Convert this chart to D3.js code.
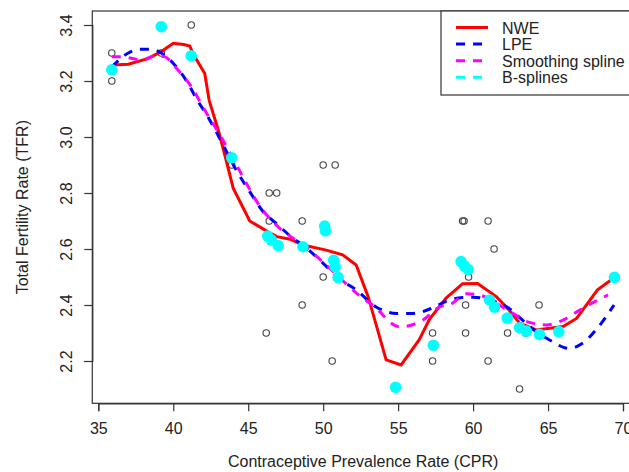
<!DOCTYPE html>
<html>
<head>
<meta charset="utf-8">
<script src="https://cdn.jsdelivr.net/npm/d3@7/dist/d3.min.js"></script>
<style>
  body { margin: 0; background: #fff; }
  text { font-family: "Liberation Sans", Arial, sans-serif; fill: #222; }
</style>
</head>
<body>
<div id="viz"></div>
<script>
// tick values
var xTicks = [35, 40, 45, 50, 55, 60, 65, 70];
var yTicks = [2.2, 2.4, 2.6, 2.8, 3.0, 3.2, 3.4];

// observed data (open circles)
var obsCPR = [35.9, 35.9, 39.2, 41.2, 43.9, 46.4, 46.9, 46.4, 48.6, 50.0, 50.8, 46.2, 48.6, 50.0, 50.6,
              57.3, 57.3, 59.5, 59.5, 59.3, 59.4, 61.0, 61.4, 59.7, 64.4, 62.3, 63.5, 61.0, 63.1];
var obsTFR = [3.3, 3.2, 3.3, 3.4, 2.9, 2.8, 2.8, 2.7, 2.7, 2.9, 2.9, 2.3, 2.4, 2.5, 2.2,
              2.3, 2.2, 2.4, 2.3, 2.7, 2.7, 2.7, 2.6, 2.5, 2.4, 2.3, 2.3, 2.2, 2.1];

// NWE fit
var nweCPR = [36.0, 37.0, 38.3, 39.2, 40.0, 40.7, 41.1, 41.4, 42.1, 42.4, 43.0, 43.3, 44.0, 45.1, 46.3, 46.9,
              47.8, 48.65, 50.2, 51.3, 52.2, 53.0, 54.2, 55.2, 56.4, 57.1, 58.2, 59.3, 60.3, 61.55, 62.4,
              63.1, 64.2, 66.0, 66.9, 68.3, 69.2];
var nweTFR = [3.257, 3.26, 3.28, 3.305, 3.335, 3.33, 3.325, 3.29, 3.227, 3.13, 3.025, 2.965, 2.817, 2.70, 2.662, 2.644,
              2.635, 2.614, 2.596, 2.579, 2.543, 2.43, 2.204, 2.186, 2.275, 2.35, 2.425, 2.476, 2.477, 2.43, 2.382,
              2.335, 2.311, 2.323, 2.352, 2.454, 2.489];

// LPE fit
var lpeCPR = [35.9, 37.0, 37.7, 38.5, 39.2, 40.1, 41.0, 41.6, 42.3, 43.05, 44.2, 45.1, 46.0, 46.9, 48.0, 48.65,
              50.0, 51.2, 52.2, 53.5, 54.9, 56.0, 57.3, 58.2, 59.3, 60.0, 61.1, 62.4, 63.3, 64.2, 65.1, 66.4,
              67.3, 68.2, 69.4];
var lpeTFR = [3.25, 3.30, 3.313, 3.313, 3.30, 3.257, 3.19, 3.132, 3.073, 3.0, 2.882, 2.805, 2.733, 2.69, 2.638, 2.614,
              2.549, 2.489, 2.454, 2.394, 2.37, 2.37, 2.39, 2.413, 2.427, 2.428, 2.418, 2.388, 2.346, 2.305, 2.275, 2.245,
              2.263, 2.311, 2.40];

// smoothing spline fit
var ssCPR = [35.9, 36.5, 37.9, 38.8, 39.4, 40.3, 41.2, 42.1, 43.2, 44.4, 45.8, 47.1, 48.65, 50.2, 51.5, 52.5,
             53.3, 55.1, 56.65, 57.8, 58.4, 59.6, 60.4, 61.55, 62.65, 63.8, 64.9, 66.0, 67.3, 69.0];
var ssTFR = [3.287, 3.287, 3.275, 3.29, 3.287, 3.24, 3.18, 3.096, 3.0, 2.882, 2.751, 2.674, 2.614, 2.543, 2.477, 2.43,
             2.40, 2.322, 2.346, 2.394, 2.40, 2.44, 2.436, 2.406, 2.37, 2.337, 2.329, 2.346, 2.388, 2.436];

// B-splines fitted points
var bsCPR = [35.9, 39.2, 41.2, 43.9, 46.3, 46.55, 47.0, 48.65, 50.1, 50.15, 50.7, 50.8, 51.0, 54.83, 57.35,
             59.2, 59.43, 59.66, 61.1, 61.43, 62.28, 63.1, 63.55, 64.43, 65.72, 69.43];
var bsTFR = [3.24, 3.394, 3.29, 2.926, 2.646, 2.632, 2.612, 2.608, 2.682, 2.665, 2.56, 2.537, 2.498, 2.106, 2.256,
             2.555, 2.539, 2.527, 2.418, 2.392, 2.353, 2.319, 2.307, 2.295, 2.305, 2.499];

var legendNames = ["NWE", "LPE", "Smoothing spline", "B-splines"];
var legendColors = ["#ff0000", "#0000ff", "#ff00ff", "#00ffff"];
var legendDash = [null, "9,8", "9,8", "9,8"];

var W = 629, H = 472;
var box = {left: 92.3, top: 11, right: 634, bottom: 403.3};

var svg = d3.select("#viz").append("svg")
    .attr("width", W)
    .attr("height", H);

svg.append("rect").attr("width", W).attr("height", H).attr("fill", "#fff");

var x = d3.scaleLinear().domain([35, 70]).range([98.3, 623]);
var y = d3.scaleLinear().domain([2.2, 3.4]).range([361, 25]);

function pts(xs, ys) {
    return xs.map(function (d, i) { return [d, ys[i]]; });
}

// open circles (observed)
svg.append("g").selectAll("circle")
    .data(pts(obsCPR, obsTFR))
    .enter()
    .append("circle")
    .attr("cx", function (d) { return x(d[0]); })
    .attr("cy", function (d) { return y(d[1]); })
    .attr("r", 3.2)
    .attr("fill", "none")
    .attr("stroke", "#444")
    .attr("stroke-width", 1.1);

var line = d3.line()
    .x(function (d) { return x(d[0]); })
    .y(function (d) { return y(d[1]); });

svg.append("path")
    .attr("d", line(pts(nweCPR, nweTFR)))
    .attr("fill", "none")
    .attr("stroke", legendColors[0])
    .attr("stroke-width", 3);

svg.append("path")
    .attr("d", line.curve(d3.curveMonotoneX)(pts(lpeCPR, lpeTFR)))
    .attr("fill", "none")
    .attr("stroke", legendColors[1])
    .attr("stroke-width", 3)
    .attr("stroke-dasharray", legendDash[1]);

svg.append("path")
    .attr("d", line.curve(d3.curveMonotoneX)(pts(ssCPR, ssTFR)))
    .attr("fill", "none")
    .attr("stroke", legendColors[2])
    .attr("stroke-width", 3)
    .attr("stroke-dasharray", legendDash[2]);

// B-spline points
svg.append("g").selectAll("circle")
    .data(pts(bsCPR, bsTFR))
    .enter()
    .append("circle")
    .attr("cx", function (d) { return x(d[0]); })
    .attr("cy", function (d) { return y(d[1]); })
    .attr("r", 5.8)
    .attr("fill", "#00ffff");

// frame
svg.append("rect")
    .attr("x", box.left).attr("y", box.top)
    .attr("width", box.right - box.left).attr("height", box.bottom - box.top)
    .attr("fill", "none")
    .attr("stroke", "#333")
    .attr("stroke-width", 1.2);

// axes
var xAxis = svg.append("g")
    .attr("transform", "translate(0," + box.bottom + ")")
    .call(d3.axisBottom(x).tickValues(xTicks).tickSize(8).tickFormat(d3.format("d")));
xAxis.select(".domain").attr("stroke", "#333").attr("stroke-width", 1.2);
xAxis.selectAll("line").attr("stroke", "#333").attr("stroke-width", 1.2);
xAxis.selectAll("text")
    .attr("y", 30.7).attr("dy", null)
    .attr("fill", "#222")
    .style("font-size", "16px");

var yAxis = svg.append("g")
    .attr("transform", "translate(" + box.left + ",0)")
    .call(d3.axisLeft(y).tickValues(yTicks).tickSize(8).tickFormat(d3.format(".1f")));
yAxis.select(".domain").attr("stroke", "#333").attr("stroke-width", 1.2);
yAxis.selectAll("line").attr("stroke", "#333").attr("stroke-width", 1.2);
yAxis.selectAll("text")
    .attr("x", null).attr("dy", null)
    .attr("transform", "translate(-20.3,0) rotate(-90)")
    .attr("text-anchor", "middle")
    .attr("fill", "#222")
    .style("font-size", "16px");

// axis titles
svg.append("text")
    .attr("x", (box.left + box.right) / 2)
    .attr("y", 467)
    .attr("text-anchor", "middle")
    .style("font-size", "16px")
    .text("Contraceptive Prevalence Rate (CPR)");

svg.append("text")
    .attr("transform", "translate(28," + (box.top + box.bottom) / 2 + ") rotate(-90)")
    .attr("text-anchor", "middle")
    .style("font-size", "16px")
    .text("Total Fertility Rate (TFR)");

// legend
var lg = svg.append("g");
lg.append("rect")
    .attr("x", 441).attr("y", box.top)
    .attr("width", 200).attr("height", 84)
    .attr("fill", "#fff")
    .attr("stroke", "#333")
    .attr("stroke-width", 1.2);

var rows = lg.selectAll("g.row")
    .data(legendNames)
    .enter()
    .append("g")
    .attr("class", "row")
    .attr("transform", function (d, i) { return "translate(0," + (27.5 + i * 16.6) + ")"; });
rows.append("line")
    .attr("x1", 456).attr("x2", 488)
    .attr("stroke", function (d, i) { return legendColors[i]; })
    .attr("stroke-width", 3)
    .attr("stroke-dasharray", function (d, i) { return legendDash[i]; });
rows.append("text")
    .attr("x", 502)
    .attr("y", 6)
    .style("font-size", "16px")
    .text(function (d) { return d; });
</script>
</body>
</html>
